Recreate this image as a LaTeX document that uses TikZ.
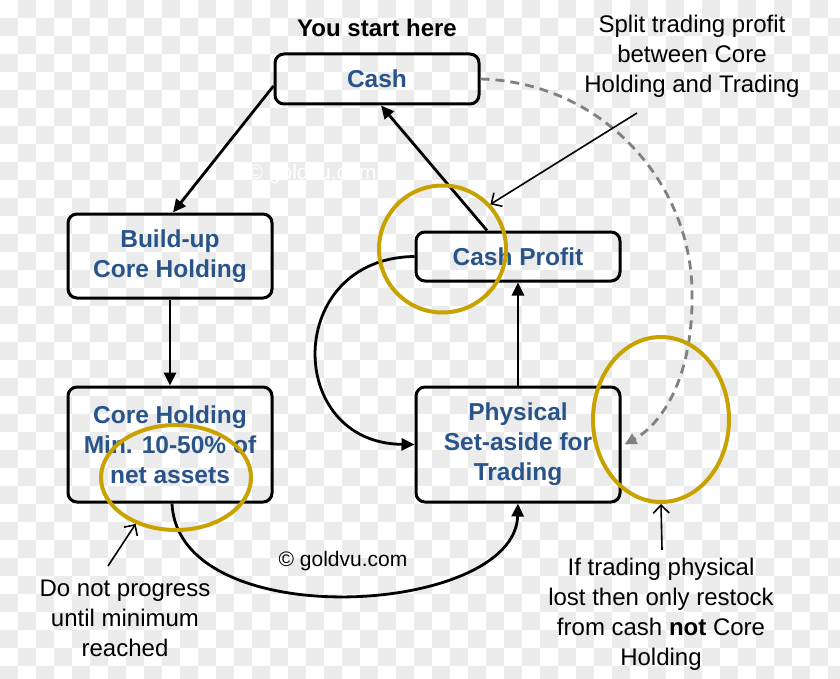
\documentclass[tikz,border=0pt]{standalone}
\usepackage{fontspec}
\setmainfont{Liberation Sans}
\usetikzlibrary{arrows.meta,shapes.geometric,calc}
\definecolor{bluetxt}{RGB}{41,84,138}
\definecolor{ringgold}{RGB}{200,162,0}
\definecolor{checkgrey}{RGB}{235,235,235}
\definecolor{dashgrey}{RGB}{128,128,128}
\begin{document}
\begin{tikzpicture}[x=1pt,y=-1pt,
  box/.style={draw=black, line width=3pt, rounded corners=9pt, minimum width=204pt, inner sep=0pt, align=center, text=bluetxt, font=\fontsize{24.5}{30}\selectfont\bfseries},
  flow/.style={line width=2.8pt, -{Triangle[length=13pt,width=12pt]}},
  note/.style={align=center, font=\fontsize{24}{30}\selectfont},
  ring/.style={ellipse, draw=ringgold, line width=4pt, inner sep=0pt},
  pointer/.style={line width=1.6pt, -{Straight Barb[length=8pt,width=16pt]}}]
\useasboundingbox (0,0) rectangle (840,679);
% checkerboard background
\begin{scope}
\clip (0,0) rectangle (840,679);
\fill[white] (0,0) rectangle (840,679);
\foreach \j in {0,...,37}{
  \pgfmathtruncatemacro{\o}{mod(\j,2)}
  \foreach \i in {0,...,23}{
    \fill[checkgrey] ({36*\i+18*(1-\o)},{18*\j}) rectangle ++(18,18);
  }
}
\end{scope}
% watermark
\node[font=\fontsize{21}{25}\selectfont, text=white] (wm) at (312,174) {© goldvu.com};
% boxes
\node[box, minimum height=50pt] (cash) at (377,79) {Cash};
\node[box, minimum height=84pt] (build) at (170,256) {Build-up\\Core Holding};
\node[box, minimum height=115pt] (core) at (170,444.5) {Core Holding\\Min. 10-50\% of\\net assets};
\node[box, minimum height=49pt] (cp) at (518,256.5) {Cash Profit};
\node[box, minimum height=115pt] (phys) at (518,444.5) {Physical\\Set-aside for\\Trading};
% notes
\node[note, font=\fontsize{24}{30}\selectfont\bfseries] (start) at (377,28) {You start here};
\node[note] (split) at (692,56) {Split trading profit\\between Core\\Holding and Trading};
\node[note] (donot) at (125,618) {Do not progress\\until minimum\\reached};
\node[note] (iftr) at (661,614) {If trading physical\\lost then only restock\\from cash \textbf{not} Core\\Holding};
\node[font=\fontsize{21}{25}\selectfont] (copy) at (343,561) {© goldvu.com};
% connectors
\draw[flow] ([yshift=-7pt]cash.west) -- ([xshift=3pt]build.north);
\draw[flow] (build.south) -- (core.north);
\draw[flow] ([xshift=2pt]core.south) .. controls (178,636) and (515,616) .. (phys.south);
\draw[flow] (cp.west) .. controls (284,258) and (284,443) .. (phys.west);
\draw[flow] (phys.north) -- (cp.south);
\draw[flow] ([xshift=-31pt]cp.north) -- ([xshift=4pt]cash.south);
\draw[dashgrey, line width=2.8pt, dash pattern=on 9pt off 6pt, -{Triangle[length=12pt,width=11pt]}] (cash.east) .. controls (600,82) and (690,180) .. (692,290) .. controls (694,380) and (660,425) .. ([xshift=3pt]phys.east);
% rings
\node[ring, minimum width=127pt, minimum height=127pt] (r1) at (442.5,249) {};
\node[ring, minimum width=150pt, minimum height=105pt] (r2) at (176,477.5) {};
\node[ring, minimum width=136pt, minimum height=165pt] (r3) at (661,419.5) {};
% pointers
\coordinate (p1) at (637,113);
\coordinate (p2) at (108,566);
\coordinate (p3) at (662,550);
\draw[pointer] (p1) -- (r1.43);
\draw[pointer] (p2) -- (r2.-131);
\draw[pointer] (p3) -- (r3.south);
\end{tikzpicture}
\end{document}
